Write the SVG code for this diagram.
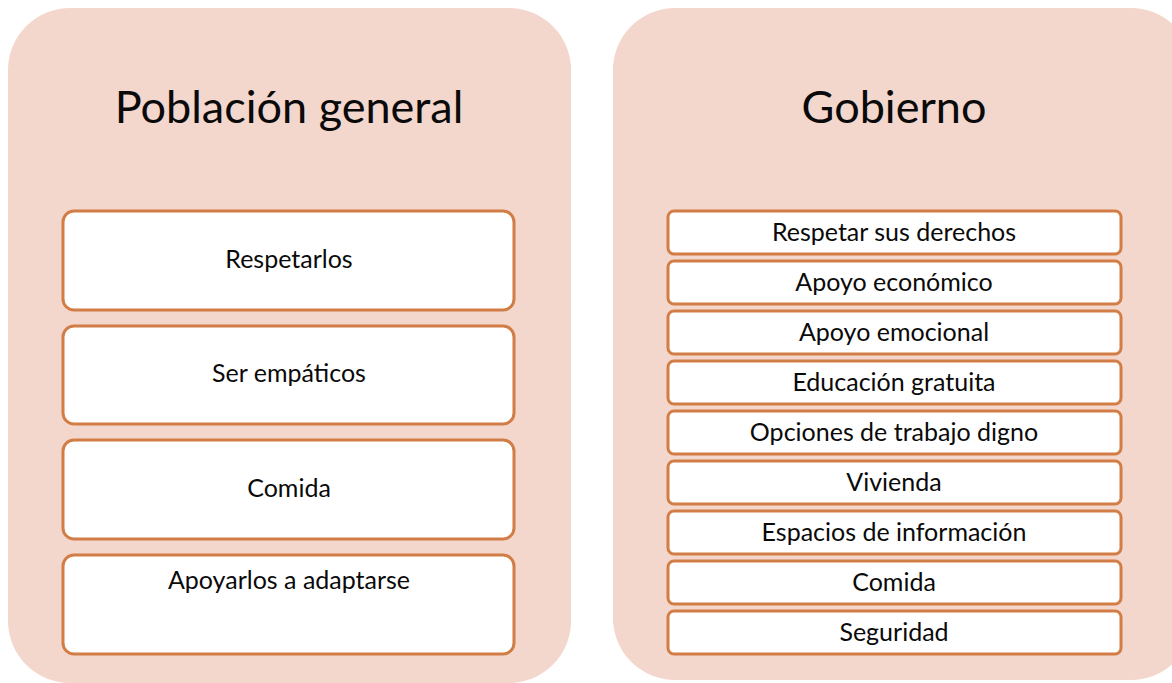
<svg xmlns="http://www.w3.org/2000/svg" width="1172" height="683" viewBox="0 0 1172 683">
<style>
.panel{fill:#F3D6CC}
.box{fill:#FFFFFF;stroke:#D27D45;stroke-width:3}
.title{font-family:Lato,"Open Sans",sans-serif;font-size:45px;fill:#0A0A0A;text-anchor:middle}
.lbl{font-family:Lato,"Open Sans",sans-serif;font-size:25px;fill:#0A0A0A;text-anchor:middle}
</style>
<rect width="1172" height="683" fill="#FFFFFF"/>
<g id="panel-left">
<rect class="panel" x="8" y="8" width="563" height="675" rx="62"/>
<text class="title" x="289" y="123">Población general</text>
</g>
<g id="panel-right">
<rect class="panel" x="613" y="8" width="580" height="672" rx="62"/>
<text class="title" x="894" y="123">Gobierno</text>
</g>
<g id="l1"><rect class="box" x="63" y="211" width="451" height="99" rx="11"/><text class="lbl" x="289" y="268">Respetarlos</text></g>
<g id="l2"><rect class="box" x="63" y="326" width="451" height="98" rx="11"/><text class="lbl" x="289" y="382">Ser empáticos</text></g>
<g id="l3"><rect class="box" x="63" y="440" width="451" height="99" rx="11"/><text class="lbl" x="289" y="497">Comida</text></g>
<g id="l4"><rect class="box" x="63" y="555" width="451" height="99" rx="11"/><text class="lbl" x="289" y="589">Apoyarlos a adaptarse</text></g>
<g id="r1"><rect class="box" x="668" y="211" width="453" height="43" rx="6"/><text class="lbl" x="894" y="241">Respetar sus derechos</text></g>
<g id="r2"><rect class="box" x="668" y="261" width="453" height="43" rx="6"/><text class="lbl" x="894" y="291">Apoyo económico</text></g>
<g id="r3"><rect class="box" x="668" y="311" width="453" height="43" rx="6"/><text class="lbl" x="894" y="341">Apoyo emocional</text></g>
<g id="r4"><rect class="box" x="668" y="361" width="453" height="43" rx="6"/><text class="lbl" x="894" y="391">Educación gratuita</text></g>
<g id="r5"><rect class="box" x="668" y="411" width="453" height="43" rx="6"/><text class="lbl" x="894" y="441">Opciones de trabajo digno</text></g>
<g id="r6"><rect class="box" x="668" y="461" width="453" height="43" rx="6"/><text class="lbl" x="894" y="491">Vivienda</text></g>
<g id="r7"><rect class="box" x="668" y="511" width="453" height="43" rx="6"/><text class="lbl" x="894" y="541">Espacios de información</text></g>
<g id="r8"><rect class="box" x="668" y="561" width="453" height="43" rx="6"/><text class="lbl" x="894" y="591">Comida</text></g>
<g id="r9"><rect class="box" x="668" y="611" width="453" height="43" rx="6"/><text class="lbl" x="894" y="641">Seguridad</text></g>
<g id="connectors"/>
</svg>
